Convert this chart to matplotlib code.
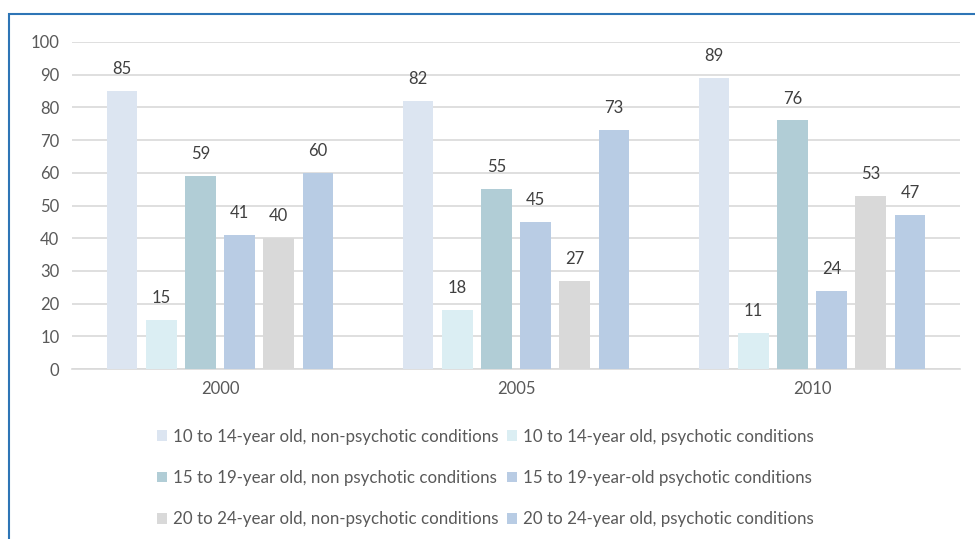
import numpy as np
import matplotlib.pyplot as plt
from matplotlib.patches import Rectangle

plt.rcParams['font.family'] = ['Lato', 'DejaVu Sans']

years = ["2000", "2005", "2010"]
series = [
    "10 to 14-year old, non-psychotic conditions",
    "10 to 14-year old, psychotic conditions",
    "15 to 19-year old, non psychotic conditions",
    "15 to 19-year-old psychotic conditions",
    "20 to 24-year old, non-psychotic conditions",
    "20 to 24-year old, psychotic conditions",
]
values = [
    [85, 82, 89],
    [15, 18, 11],
    [59, 55, 76],
    [41, 45, 24],
    [40, 27, 53],
    [60, 73, 47],
]
colors = ["#DCE5F1", "#DBEEF3", "#B1CDD6", "#B9CCE4", "#D9D9D9", "#B8CCE4"]

W, H = 975, 539
fig = plt.figure(figsize=(W / 100, H / 100), dpi=100)
ax = fig.add_axes([72 / W, 1 - 369 / H, 888 / W, 327 / H])

x = np.arange(len(years))
step = 0.1325
width = 0.104
handles = []
for i, (name, vals) in enumerate(zip(series, values)):
    pos = x + (i - 2.5) * step
    b = ax.bar(pos, vals, width, color=colors[i], label=name, zorder=3)
    handles.append(b)
    for px, v in zip(pos, vals):
        ax.annotate(str(v), (px, v), textcoords="offset points", xytext=(0, 10),
                    ha="center", va="bottom", fontsize=12, color="#404040")

ax.set_xlim(-0.5, 2.5)
ax.set_ylim(0, 100)
ax.set_yticks(range(0, 101, 10))
ax.set_xticks(x)
ax.set_xticklabels(years)
ax.yaxis.grid(True, color="#D9D9D9", lw=1.2, zorder=0)
ax.tick_params(length=0, labelsize=12, colors="#595959", pad=9)
ax.tick_params(axis="x", pad=9)
for s in ["top", "right", "left"]:
    ax.spines[s].set_visible(False)
ax.spines["bottom"].set_color("#D9D9D9")
ax.spines["bottom"].set_linewidth(1.2)

order = [0, 2, 4, 1, 3, 5]
leg = fig.legend([handles[k] for k in order], [series[k] for k in order],
                 ncol=2, loc="center", bbox_to_anchor=(485 / W, 1 - 478 / H),
                 frameon=False, fontsize=12.2, handlelength=0.6, handleheight=0.6,
                 handletextpad=0.35, columnspacing=0.5, labelspacing=1.5)
for t in leg.get_texts():
    t.set_color("#595959")

fig.patches.append(Rectangle((9 / W, -0.1), 1.2, 1.1 - 14 / H, transform=fig.transFigure,
                             fill=False, edgecolor="#2E75B6", lw=1.5))

fig.savefig("out.png", dpi=100)
